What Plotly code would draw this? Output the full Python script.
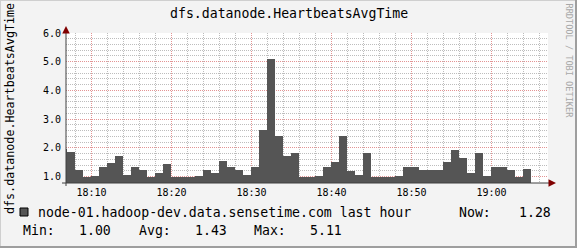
import pandas as pd
import plotly.graph_objects as go

# ---------------- data ----------------
title = "dfs.datanode.HeartbeatsAvgTime"
series_name = "node-01.hadoop-dev.data.sensetime.com last hour"
bin_start = "2017-01-01 18:06:00"
values = [1.98, 1.87, 1.24, 1.00, 1.03, 1.32, 1.49, 1.73, 1.07, 1.32,
          1.24, 1.00, 1.14, 1.45, 1.00, 1.00, 1.00, 1.03, 1.24, 1.14,
          1.56, 1.32, 1.24, 1.05, 1.32, 2.63, 5.11, 2.43, 1.73, 1.83,
          1.00, 1.00, 1.03, 1.32, 1.52, 2.43, 1.21, 1.07, 1.83, 1.00,
          1.00, 1.00, 1.03, 1.32, 1.32, 1.24, 1.24, 1.24, 1.52, 1.94,
          1.66, 1.14, 1.83, 1.03, 1.32, 1.32, 1.24, 1.00, 1.28]
times = pd.date_range(bin_start, periods=len(values), freq="1min")
stat_labels = ["Min:", "Avg:", "Max:"]
stat_values = ["1.00", "1.43", "5.11"]
now_label = "Now:"
now_value = "1.28"
y_tickvals = [1, 2, 3, 4, 5, 6]
y_ticktext = ["1.0", "2.0", "3.0", "4.0", "5.0", "6.0"]
x_start = "2017-01-01 18:06:49"
x_end = "2017-01-01 19:07:04"

# ---------------- layout constants ----------------
W, H = 577, 248
L, R, T, B = 66, 29, 33, 65
PW, PH = W - L - R, H - T - B
MONO = "DejaVu Sans Mono"
BAR_COLOR = "#555555"
MAJOR_GRID = "#e39494"
MINOR_GRID = "#bdbdbd"


def px(x):
    return (x - L) / PW


def py(y):
    return (H - B - y) / PH


fig = go.Figure()
fig.add_trace(go.Bar(
    x=times, y=values, width=60000, offset=0,
    marker=dict(color=BAR_COLOR, line=dict(width=0)),
    showlegend=False, hoverinfo="skip"))

fig.update_layout(
    width=W, height=H,
    margin=dict(l=L, r=R, t=T, b=B, pad=0),
    paper_bgcolor="#f3f3f3", plot_bgcolor="#ffffff",
    bargap=0, showlegend=False,
    font=dict(family=MONO, size=10, color="#000000"),
)

fig.update_xaxes(
    range=[x_start, x_end], type="date",
    tickformat="%H:%M", dtick=600000, tick0="2017-01-01 18:00:00",
    showgrid=True, gridcolor=MAJOR_GRID, griddash="1px,1px", gridwidth=1,
    minor=dict(dtick=120000, tick0="2017-01-01 18:00:00", showgrid=True,
               gridcolor=MINOR_GRID, griddash="1px,1px", gridwidth=1),
    showline=False, zeroline=False, ticks="",
    tickfont=dict(family=MONO, size=10, color="#000000"),
    ticklabelstandoff=2,
    layer="above traces",
)
fig.update_yaxes(
    range=[0.78, 6.0],
    tickvals=y_tickvals, ticktext=y_ticktext,
    showgrid=True, gridcolor=MAJOR_GRID, griddash="1px,1px", gridwidth=1,
    minor=dict(dtick=0.2, tick0=0, showgrid=True,
               gridcolor=MINOR_GRID, griddash="1px,1px", gridwidth=1),
    showline=False, zeroline=False, ticks="",
    tickfont=dict(family=MONO, size=10, color="#000000"),
    ticklabelstandoff=4,
    layer="above traces",
)

shapes = []
# axis lines
shapes.append(dict(type="line", xref="paper", yref="paper",
                   x0=px(62), x1=px(551), y0=0, y1=0,
                   line=dict(color="#404040", width=1)))
shapes.append(dict(type="line", xref="paper", yref="paper",
                   x0=0, x1=0, y0=py(186), y1=py(29),
                   line=dict(color="#404040", width=1)))
# frame shading
shapes.append(dict(type="rect", xref="paper", yref="paper",
                   x0=px(W - 2), x1=px(W), y0=py(H), y1=py(0),
                   fillcolor="#9e9e9e", line=dict(width=0), layer="above"))
shapes.append(dict(type="rect", xref="paper", yref="paper",
                   x0=px(0), x1=px(W), y0=py(H), y1=py(H - 2),
                   fillcolor="#9e9e9e", line=dict(width=0), layer="above"))
shapes.append(dict(type="rect", xref="paper", yref="paper",
                   x0=px(0), x1=px(1), y0=py(H - 2), y1=py(0),
                   fillcolor="#cfcfcf", line=dict(width=0), layer="above"))
shapes.append(dict(type="rect", xref="paper", yref="paper",
                   x0=px(0), x1=px(W - 2), y0=py(1), y1=py(0),
                   fillcolor="#cfcfcf", line=dict(width=0), layer="above"))
# legend swatch
shapes.append(dict(type="rect", xref="paper", yref="paper",
                   x0=px(20), x1=px(28), y0=py(216), y1=py(208),
                   fillcolor=BAR_COLOR, line=dict(color="#000000", width=1)))
fig.update_layout(shapes=shapes)

ann = []
# arrows
ann.append(dict(xref="paper", yref="paper", x=px(556), y=0, ax=-8, ay=0,
                showarrow=True, arrowhead=2, arrowsize=1, arrowwidth=1.5,
                arrowcolor="#800000", text=""))
ann.append(dict(xref="paper", yref="paper", x=0, y=py(26), ax=0, ay=8,
                showarrow=True, arrowhead=2, arrowsize=1, arrowwidth=1.5,
                arrowcolor="#800000", text=""))
# title
ann.append(dict(xref="paper", yref="paper", x=px(W / 2), y=py(13),
                xanchor="center", yanchor="middle", showarrow=False,
                text=title, font=dict(family=MONO, size=13.2, color="#000")))
# y axis label
ann.append(dict(xref="paper", yref="paper", x=px(10), y=py(109),
                xanchor="center", yanchor="middle", showarrow=False,
                textangle=-90, text=title,
                font=dict(family=MONO, size=11.7, color="#000")))
# watermark
ann.append(dict(xref="paper", yref="paper", x=px(568.5), y=py(61),
                xanchor="center", yanchor="middle", showarrow=False,
                textangle=90, text="RRDTOOL / TOBI OETIKER",
                font=dict(family=MONO, size=8.6, color="#a8a8a8")))
# legend line 1
ann.append(dict(xref="paper", yref="paper", x=px(36), y=py(212.5),
                xanchor="left", yanchor="middle", showarrow=False,
                text=series_name, font=dict(family=MONO, size=13.2)))
ann.append(dict(xref="paper", yref="paper", x=px(456.7), y=py(212.5),
                xanchor="left", yanchor="middle", showarrow=False,
                text=now_label, font=dict(family=MONO, size=13.2)))
ann.append(dict(xref="paper", yref="paper", x=px(516.7), y=py(212.5),
                xanchor="left", yanchor="middle", showarrow=False,
                text=now_value, font=dict(family=MONO, size=13.2)))
# legend line 2
label_x = [20.7, 136.7, 252.3]
value_x = [76.7, 192.7, 308.3]
for lab, lx, val, vx in zip(stat_labels, label_x, stat_values, value_x):
    ann.append(dict(xref="paper", yref="paper", x=px(lx), y=py(230.7),
                    xanchor="left", yanchor="middle", showarrow=False,
                    text=lab, font=dict(family=MONO, size=13.2)))
    ann.append(dict(xref="paper", yref="paper", x=px(vx), y=py(230.7),
                    xanchor="left", yanchor="middle", showarrow=False,
                    text=val, font=dict(family=MONO, size=13.2)))
fig.update_layout(annotations=ann)

fig.write_html("out.html")
